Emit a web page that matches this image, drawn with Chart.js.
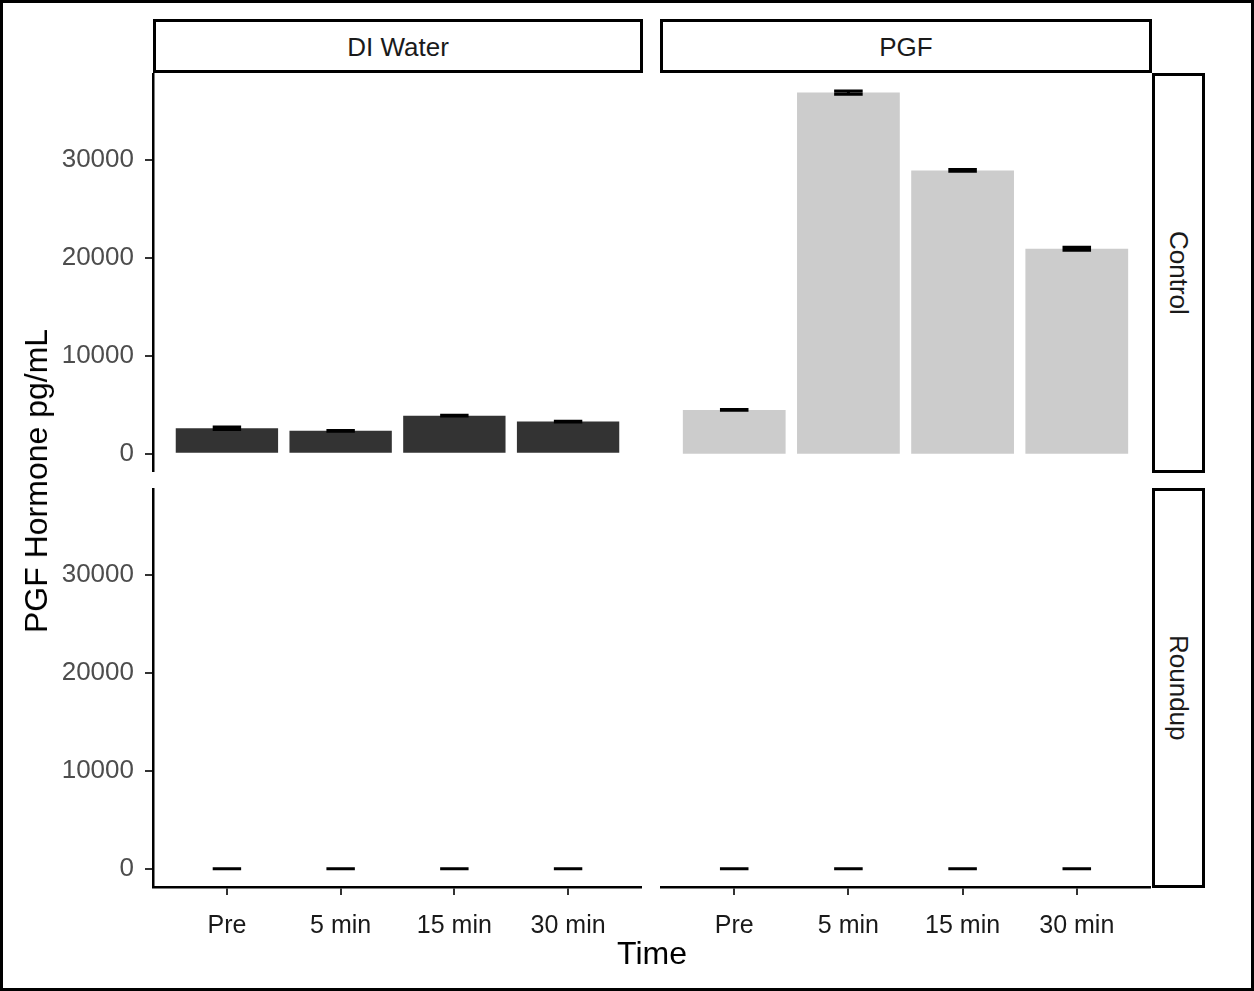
<!DOCTYPE html>
<html>
<head>
<meta charset="utf-8">
<script src="https://cdn.jsdelivr.net/npm/chart.js@4.4.1/dist/chart.umd.min.js"></script>
<style>
  body { margin: 0; background: #fff; font-family: "Liberation Sans", Arial, sans-serif; }
  #wrap { position: relative; width: 1254px; height: 991px; overflow: hidden; }
  #frame { position: absolute; left: 0; top: 0; width: 1254px; height: 991px; box-sizing: border-box; border: 3px solid #000; pointer-events: none; }
  canvas { position: absolute; }
  .strip { position: absolute; box-sizing: border-box; border: 3px solid #000; background: #fff;
    display: flex; align-items: center; justify-content: center; font-size: 26px; color: #1a1a1a; }
  .strip.top { padding-top: 3px; }
  .strip.side span { writing-mode: vertical-rl; }
  #ytitle { position: absolute; left: 36px; top: 481px; transform: translate(-50%, -50%) rotate(-90deg);
    font-size: 32px; white-space: nowrap; color: #000; line-height: 32px; }
  #xtitle { position: absolute; left: 652px; top: 937px; transform: translateX(-50%);
    font-size: 32px; line-height: 32px; color: #000; }
</style>
</head>
<body>
<div id="wrap">
  <canvas id="ctrlDi" width="642" height="399" style="left:0px;top:73px"></canvas>
  <canvas id="ctrlPgf" width="491" height="399" style="left:660px;top:73px"></canvas>
  <canvas id="rndDi" width="642" height="497" style="left:0px;top:488px"></canvas>
  <canvas id="rndPgf" width="491" height="497" style="left:660px;top:488px"></canvas>

  <div class="strip top" style="left:153px;top:19px;width:490px;height:54px">DI Water</div>
  <div class="strip top" style="left:660px;top:19px;width:492px;height:54px">PGF</div>
  <div class="strip side" style="left:1152px;top:73px;width:53px;height:400px"><span>Control</span></div>
  <div class="strip side" style="left:1152px;top:488px;width:53px;height:400px"><span>Roundup</span></div>

  <div id="ytitle">PGF Hormone pg/mL</div>
  <div id="xtitle">Time</div>
  <div id="frame"></div>
</div>

<script>
// categories on the x axis
const timeLabels = ["Pre", "5 min", "15 min", "30 min"];
const yTicks = [0, 10000, 20000, 30000];

// mean values (pg/mL) and standard errors
const controlDiMean = [2620, 2350, 3900, 3300];
const controlDiSe = [120, 30, 30, 40];
const controlPgfMean = [4490, 36870, 28930, 20940];
const controlPgfSe = [50, 170, 80, 150];
const roundupDiMean = [0, 0, 0, 0];
const roundupDiSe = [0, 0, 0, 0];
const roundupPgfMean = [0, 0, 0, 0];
const roundupPgfSe = [0, 0, 0, 0];

const diColor = "#333333";
const pgfColor = "#cccccc";

// shared axis ranges (same for every facet)
const yMin = -1850;
const yMax = 38870;
const xMin = 0.35;
const xMax = 4.65;

// draws error bars from dataset.errors, using the chart's own scales
const errorBars = {
  id: "errorBars",
  afterDatasetsDraw(chart) {
    const ctx = chart.ctx;
    const xs = chart.scales.x;
    const ys = chart.scales.y;
    chart.data.datasets.forEach((ds) => {
      ds.data.forEach((pt, i) => {
        const se = ds.errors[i];
        const cx = xs.getPixelForValue(pt.x);
        const half = (xs.getPixelForValue(pt.x + 0.125) - xs.getPixelForValue(pt.x - 0.125)) / 2;
        const top = ys.getPixelForValue(pt.y + se);
        const bot = ys.getPixelForValue(pt.y - se);
        ctx.save();
        ctx.strokeStyle = "#000";
        ctx.lineWidth = 3;
        ctx.beginPath();
        ctx.moveTo(cx - half, top);
        ctx.lineTo(cx + half, top);
        ctx.moveTo(cx - half, bot);
        ctx.lineTo(cx + half, bot);
        ctx.moveTo(cx, top);
        ctx.lineTo(cx, bot);
        ctx.stroke();
        ctx.restore();
      });
    });
  },
};

function makePanel(id, means, errs, color, showY, showX) {
  const canvas = document.getElementById(id);
  const points = means.map((v, i) => ({ x: i + 1, y: v }));
  return new Chart(canvas.getContext("2d"), {
    type: "bar",
    data: {
      datasets: [
        {
          data: points,
          errors: errs,
          backgroundColor: color,
          borderWidth: 0,
          barPercentage: 0.9,
          categoryPercentage: 1,
        },
      ],
    },
    options: {
      responsive: false,
      animation: false,
      layout: { padding: 0 },
      plugins: { legend: { display: false }, tooltip: { enabled: false } },
      scales: {
        x: {
          type: "linear",
          min: xMin,
          max: xMax,
          offset: false,
          display: showX,
          afterBuildTicks: (scale) => {
            scale.ticks = timeLabels.map((t, i) => ({ value: i + 1 }));
          },
          afterFit: (scale) => {
            scale.height = showX ? 98 : 0;
            scale.paddingLeft = 0;
            scale.paddingRight = 0;
          },
          grid: { offset: false, drawOnChartArea: false, drawTicks: true, tickLength: 8, color: "#333", lineWidth: 2 },
          border: { display: true, color: "#000", width: 2.5 },
          ticks: {
            padding: 16,
            maxRotation: 0,
            autoSkip: false,
            color: "#1a1a1a",
            font: { family: "Liberation Sans", size: 25 },
            callback: (v) => timeLabels[v - 1],
          },
        },
        y: {
          min: yMin,
          max: yMax,
          display: showY,
          afterBuildTicks: (scale) => {
            scale.ticks = yTicks.map((v) => ({ value: v }));
          },
          afterFit: (scale) => {
            scale.width = showY ? 153 : 0;
            scale.paddingTop = 0;
            scale.paddingBottom = 0;
          },
          grid: { drawOnChartArea: false, drawTicks: true, tickLength: 8, color: "#333", lineWidth: 2 },
          border: { display: true, color: "#000", width: 2.5 },
          ticks: {
            padding: 11,
            color: "#4d4d4d",
            font: { family: "Liberation Sans", size: 26 },
            callback: (v) => String(v),
          },
        },
      },
    },
    plugins: [errorBars],
  });
}

makePanel("ctrlDi", controlDiMean, controlDiSe, diColor, true, false);
makePanel("ctrlPgf", controlPgfMean, controlPgfSe, pgfColor, false, false);
makePanel("rndDi", roundupDiMean, roundupDiSe, diColor, true, true);
makePanel("rndPgf", roundupPgfMean, roundupPgfSe, pgfColor, false, true);
</script>
</body>
</html>
